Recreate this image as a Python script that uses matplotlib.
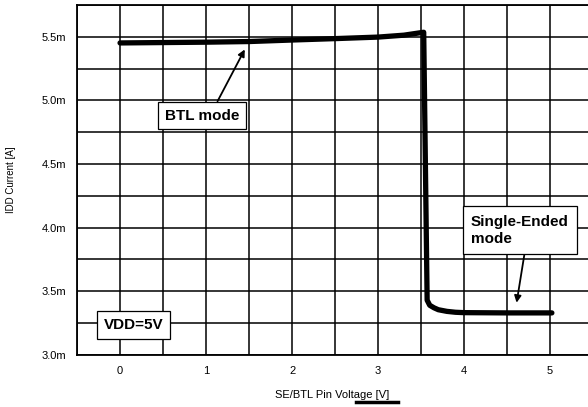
import numpy as np
import matplotlib
matplotlib.use("Agg")
import matplotlib.pyplot as plt
from matplotlib.ticker import MultipleLocator, FixedLocator

plt.rcParams['font.family'] = ['Liberation Sans', 'DejaVu Sans']

# supply current vs SE/BTL pin voltage (mA read as m-units of A)
volt = [0.0, 0.5, 1.0, 1.5, 2.0, 2.5, 3.0, 3.3, 3.53, 3.57, 3.6, 3.65, 3.7, 3.8, 3.9, 4.0, 4.5, 5.02]
idd = [5.451, 5.454, 5.457, 5.462, 5.474, 5.485, 5.497, 5.512, 5.535, 3.43, 3.39, 3.37, 3.355, 3.342, 3.335, 3.332, 3.33, 3.33]

yticks = [3.0, 3.5, 4.0, 4.5, 5.0, 5.5]
ytick_labels = ['3.0m', '3.5m', '4.0m', '4.5m', '5.0m', '5.5m']
xticks = [0, 1, 2, 3, 4, 5]

fig = plt.figure(figsize=(5.88, 4.07), dpi=100)
ax = fig.add_axes([0.131, 0.128, 0.869, 0.86])

ax.plot(volt, idd, color='black', lw=3.8, solid_capstyle='round', solid_joinstyle='round', zorder=3)

ax.set_xlim(-0.5, 5.44)
ax.set_ylim(3.0, 5.75)
ax.xaxis.set_major_locator(FixedLocator(xticks))
ax.xaxis.set_minor_locator(MultipleLocator(0.5))
ax.yaxis.set_major_locator(FixedLocator(yticks))
ax.yaxis.set_minor_locator(MultipleLocator(0.25))
ax.set_yticklabels(ytick_labels)
ax.tick_params(which='both', length=0, labelsize=8, pad=8)
ax.grid(which='both', color='black', lw=1.1)
ax.set_axisbelow(True)
for s in ['left', 'top', 'bottom']:
    ax.spines[s].set_linewidth(1.3)
ax.spines['right'].set_visible(False)

ax.set_xlabel('SE/BTL Pin Voltage [V]', fontsize=8, labelpad=10)
ax.set_ylabel('IDD Current [A]', fontsize=7, labelpad=18)

box = dict(boxstyle='square,pad=0.45', fc='white', ec='black', lw=0.9)

ax.annotate('BTL mode', xy=(1.45, 5.40), xytext=(0.95, 4.88), fontsize=11, fontweight='bold',
            ha='center', va='center', bbox=box, zorder=5,
            arrowprops=dict(arrowstyle='-|>', color='black', lw=1.3, mutation_scale=10,
                            shrinkA=0, shrinkB=0, relpos=(0.66, 1.0)))
ax.annotate('Single-Ended\nmode', xy=(4.61, 3.41), xytext=(4.08, 3.98), fontsize=11, fontweight='bold',
            ha='left', va='center', linespacing=1.25, zorder=5,
            bbox=dict(boxstyle='square,pad=0.55', fc='white', ec='black', lw=0.9),
            arrowprops=dict(arrowstyle='-|>', color='black', lw=1.3, mutation_scale=10,
                            shrinkA=0, shrinkB=0, relpos=(0.56, 0.0)))
ax.text(0.16, 3.236, 'VDD=5V', fontsize=11, fontweight='bold', ha='center', va='center',
        bbox=box, zorder=5)

# short mark under the axis title
fig.add_artist(plt.Line2D([356 / 588, 398 / 588], [1 - 402 / 407] * 2, color='black', lw=2.5))

fig.savefig('out.png', dpi=100)
